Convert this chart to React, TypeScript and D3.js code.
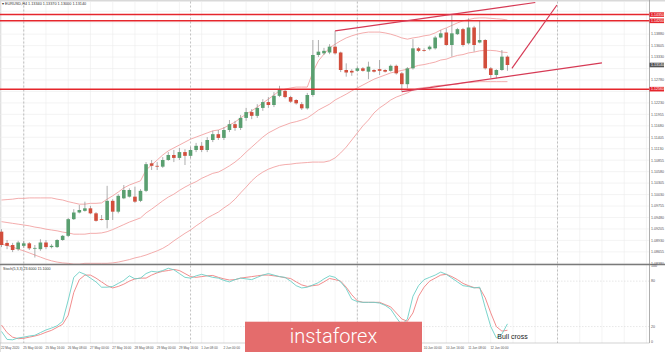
import * as d3 from 'd3';

// EURUSD H4 candles, 22 May 08:00 .. 12 Jun 12:00
const opens = [
  1.0914, 1.0887, 1.0882, 1.0872, 1.0880, 1.0886, 1.0874, 1.0872, 1.0888, 1.0877,
  1.0877, 1.0894, 1.0904, 1.0944, 1.0960, 1.0964, 1.0970, 1.0958, 1.0944, 1.0942,
  1.0988, 1.0962, 1.0994, 1.0998, 1.0998, 1.0988, 1.1012, 1.1078, 1.1072, 1.1070,
  1.1086, 1.1098, 1.1091, 1.1105, 1.1096, 1.1110, 1.1120, 1.1110, 1.1134, 1.1148,
  1.1139, 1.1158, 1.1172, 1.1163, 1.1187, 1.1201, 1.1192, 1.1211, 1.1225, 1.1218,
  1.1240, 1.1252, 1.1237, 1.1230, 1.1220, 1.1210, 1.1242, 1.1338, 1.1342, 1.1344,
  1.1358, 1.1344, 1.1302, 1.1300, 1.1300, 1.1306, 1.1298, 1.1302, 1.1304, 1.1302,
  1.1300, 1.1312, 1.1294, 1.1268, 1.1306, 1.1354, 1.1350, 1.1352, 1.1354, 1.1380,
  1.1392, 1.1362, 1.1388, 1.1400, 1.1366, 1.1404, 1.1368, 1.1374, 1.1306, 1.1290,
  1.1302, 1.1334,
];
const highs = [
  1.0920, 1.0894, 1.0887, 1.0892, 1.0892, 1.0889, 1.0882, 1.0896, 1.0894, 1.0884,
  1.0896, 1.0906, 1.0947, 1.0968, 1.0978, 1.0986, 1.0976, 1.0961, 1.0954, 1.1024,
  1.0992, 1.1004, 1.1026, 1.1018, 1.1022, 1.1016, 1.1081, 1.1086, 1.1081, 1.1093,
  1.1105, 1.1110, 1.1115, 1.1112, 1.1117, 1.1127, 1.1129, 1.1141, 1.1156, 1.1158,
  1.1165, 1.1182, 1.1180, 1.1194, 1.1211, 1.1208, 1.1220, 1.1232, 1.1237, 1.1249,
  1.1264, 1.1256, 1.1240, 1.1232, 1.1225, 1.1247, 1.1374, 1.1374, 1.1355, 1.1364,
  1.1396, 1.1346, 1.1318, 1.1304, 1.1309, 1.1309, 1.1322, 1.1304, 1.1326, 1.1304,
  1.1315, 1.1315, 1.1297, 1.1309, 1.1376, 1.1357, 1.1354, 1.1361, 1.1384, 1.1398,
  1.1402, 1.1436, 1.1403, 1.1403, 1.1426, 1.1408, 1.1422, 1.1376, 1.1309, 1.1304,
  1.1350, 1.1337,
];
const lows = [
  1.0877, 1.0872, 1.0865, 1.0868, 1.0875, 1.0870, 1.0852, 1.0868, 1.0872, 1.0874,
  1.0875, 1.0892, 1.0901, 1.0942, 1.0958, 1.0962, 1.0956, 1.0938, 1.0941, 1.0922,
  1.0942, 1.0958, 1.0992, 1.0996, 1.0983, 1.0985, 1.1009, 1.1062, 1.1062, 1.1067,
  1.1084, 1.1081, 1.1086, 1.1074, 1.1091, 1.1105, 1.1105, 1.1105, 1.1129, 1.1134,
  1.1134, 1.1153, 1.1156, 1.1158, 1.1180, 1.1184, 1.1187, 1.1204, 1.1211, 1.1213,
  1.1237, 1.1234, 1.1223, 1.1219, 1.1206, 1.1207, 1.1238, 1.1333, 1.1338, 1.1340,
  1.1339, 1.1297, 1.1286, 1.1288, 1.1298, 1.1298, 1.1280, 1.1296, 1.1290, 1.1296,
  1.1298, 1.1291, 1.1250, 1.1258, 1.1303, 1.1345, 1.1346, 1.1349, 1.1351, 1.1378,
  1.1360, 1.1334, 1.1386, 1.1358, 1.1363, 1.1346, 1.1366, 1.1303, 1.1283, 1.1282,
  1.1300, 1.1300,
];
const closes = [
  1.0882, 1.0880, 1.0870, 1.0888, 1.0886, 1.0874, 1.0875, 1.0888, 1.0877, 1.0880,
  1.0894, 1.0904, 1.0944, 1.0960, 1.0966, 1.0970, 1.0958, 1.0940, 1.0943, 1.0988,
  1.0962, 1.1000, 1.1014, 1.1014, 1.0986, 1.1012, 1.1076, 1.1072, 1.1071, 1.1086,
  1.1098, 1.1091, 1.1105, 1.1096, 1.1110, 1.1120, 1.1110, 1.1134, 1.1148, 1.1139,
  1.1158, 1.1172, 1.1163, 1.1187, 1.1201, 1.1192, 1.1211, 1.1225, 1.1218, 1.1240,
  1.1254, 1.1237, 1.1226, 1.1222, 1.1210, 1.1242, 1.1338, 1.1346, 1.1348, 1.1358,
  1.1342, 1.1302, 1.1296, 1.1296, 1.1306, 1.1300, 1.1310, 1.1298, 1.1300, 1.1298,
  1.1312, 1.1294, 1.1268, 1.1306, 1.1354, 1.1348, 1.1349, 1.1358, 1.1380, 1.1390,
  1.1362, 1.1390, 1.1400, 1.1362, 1.1404, 1.1362, 1.1374, 1.1306, 1.1290, 1.1302,
  1.1334, 1.1314,
];

// Bollinger bands as drawn on the chart
const bbUpper = [
  1.0990, 1.0991, 1.0992, 1.0994, 1.0994, 1.0995, 1.0995, 1.0995, 1.0995, 1.0995,
  1.0992, 1.0990, 1.0986, 1.0983, 1.0980, 1.0980, 1.0982, 1.0982, 1.0983, 1.0992,
  1.1000, 1.1009, 1.1019, 1.1026, 1.1031, 1.1036, 1.1062, 1.1074, 1.1086, 1.1098,
  1.1108, 1.1115, 1.1122, 1.1129, 1.1136, 1.1141, 1.1146, 1.1151, 1.1156, 1.1158,
  1.1163, 1.1170, 1.1177, 1.1187, 1.1196, 1.1204, 1.1213, 1.1223, 1.1232, 1.1242,
  1.1252, 1.1256, 1.1259, 1.1261, 1.1261, 1.1261, 1.1297, 1.1324, 1.1340, 1.1355,
  1.1364, 1.1372, 1.1379, 1.1384, 1.1388, 1.1391, 1.1393, 1.1393, 1.1393, 1.1391,
  1.1388, 1.1384, 1.1379, 1.1376, 1.1379, 1.1381, 1.1384, 1.1386, 1.1391, 1.1398,
  1.1403, 1.1409, 1.1415, 1.1420, 1.1423, 1.1426, 1.1427, 1.1427, 1.1426, 1.1425,
  1.1424, 1.1422,
];
const bbMiddle = [
  1.0938, 1.0936, 1.0934, 1.0932, 1.0930, 1.0928, 1.0925, 1.0923, 1.0920, 1.0918,
  1.0916, 1.0913, 1.0911, 1.0908, 1.0908, 1.0908, 1.0910, 1.0910, 1.0911, 1.0914,
  1.0919, 1.0925, 1.0931, 1.0937, 1.0942, 1.0947, 1.0959, 1.0968, 1.0978, 1.0988,
  1.0997, 1.1004, 1.1013, 1.1021, 1.1028, 1.1034, 1.1042, 1.1048, 1.1054, 1.1057,
  1.1064, 1.1072, 1.1081, 1.1092, 1.1105, 1.1117, 1.1129, 1.1141, 1.1151, 1.1158,
  1.1165, 1.1170, 1.1175, 1.1178, 1.1182, 1.1187, 1.1196, 1.1206, 1.1213, 1.1220,
  1.1230, 1.1237, 1.1244, 1.1252, 1.1259, 1.1266, 1.1273, 1.1280, 1.1285, 1.1290,
  1.1295, 1.1298, 1.1301, 1.1304, 1.1309, 1.1313, 1.1315, 1.1318, 1.1321, 1.1326,
  1.1328, 1.1333, 1.1337, 1.1339, 1.1343, 1.1345, 1.1348, 1.1349, 1.1349, 1.1348,
  1.1345, 1.1344,
];
const bbLower = [
  1.0884, 1.0881, 1.0877, 1.0872, 1.0868, 1.0863, 1.0858, 1.0853, 1.0848, 1.0844,
  1.0841, 1.0839, 1.0838, 1.0836, 1.0836, 1.0838, 1.0838, 1.0838, 1.0838, 1.0838,
  1.0839, 1.0841, 1.0844, 1.0847, 1.0851, 1.0854, 1.0858, 1.0863, 1.0868, 1.0874,
  1.0882, 1.0892, 1.0901, 1.0910, 1.0918, 1.0928, 1.0937, 1.0947, 1.0954, 1.0961,
  1.0971, 1.0980, 1.0992, 1.1007, 1.1021, 1.1036, 1.1048, 1.1057, 1.1064, 1.1069,
  1.1073, 1.1075, 1.1076, 1.1078, 1.1079, 1.1080, 1.1081, 1.1081, 1.1081, 1.1084,
  1.1091, 1.1103, 1.1117, 1.1134, 1.1151, 1.1168, 1.1182, 1.1199, 1.1211, 1.1220,
  1.1230, 1.1237, 1.1242, 1.1247, 1.1254, 1.1258, 1.1260, 1.1261, 1.1264, 1.1265,
  1.1266, 1.1267, 1.1268, 1.1271, 1.1272, 1.1273, 1.1274, 1.1274, 1.1274, 1.1274,
  1.1274, 1.1274,
];

// Stochastic (5,3,3)
const stochMain = [
  13.6, 3, 2.5, 5, 6, 7.5, 8.5, 12, 15.5, 18,
  21, 27, 55, 85, 92, 89, 84, 79, 72, 72,
  73, 77, 81, 87, 83, 84, 90, 93, 92, 94,
  97, 95, 90, 85, 84, 87, 89, 87, 85, 84,
  81, 79, 82, 84, 83, 82, 85, 88, 90, 88,
  86, 85, 80, 74, 71, 72, 75, 78, 83, 87,
  85, 79, 70, 56, 53, 52, 52, 52, 51, 48,
  43, 32, 22, 30, 60, 74, 82, 85, 88, 92,
  89, 84, 79, 74, 73, 71, 72, 45, 20, 5,
  10, 23.6,
];
const stochSignal = [
  22, 12, 6, 4, 4.5, 6, 7.5, 9.5, 12.5, 15,
  19, 23, 35, 65, 82, 88, 88, 84, 79, 74,
  71, 73, 76, 80, 83, 84, 84, 88, 91, 93,
  94, 95.5, 94, 90, 86, 85, 86, 87, 87.5, 85,
  83, 81.5, 82, 84, 85, 86, 87, 88, 88, 87,
  86, 84.5, 83.5, 79, 75, 73, 74, 75, 79, 83.5,
  82, 80, 72, 62, 54, 52, 52, 52, 52, 49,
  46, 38, 30, 27, 38, 60, 72, 80, 84, 88,
  89, 86, 82, 77, 74, 71.5, 71, 58, 38, 20,
  14, 15.1,
];

const priceTicks = d3.range(23).map(k => 1.0838 + k * 0.00275);
const levelLines = [1.1435, 1.1420, 1.1256];
const lastPrice = 1.1314;
// trend lines: [candle index, price] pairs
const trendLines = [
  [[60, 1.1396], [96, 1.1464]],
  [[72, 1.1250], [108, 1.1319]],
  [[91.8, 1.1306], [99.9, 1.1458]],
];
const timeTickIdx = d3.range(0, 89, 4);
const timeLabels = [
  '22 May 2020', '25 May 00:00', '25 May 16:00', '26 May 08:00', '27 May 00:00', '27 May 16:00',
  '28 May 08:00', '29 May 00:00', '29 May 16:00', '1 Jun 08:00', '2 Jun 00:00', '2 Jun 16:00',
  '3 Jun 08:00', '4 Jun 00:00', '4 Jun 16:00', '5 Jun 08:00', '8 Jun 00:00', '8 Jun 16:00',
  '9 Jun 08:00', '10 Jun 00:00', '10 Jun 16:00', '11 Jun 08:00', '12 Jun 00:00',
];
const separatorIdx = [4, 34, 64, 100];
const stochLevels = [80, 20];
const stochAxis = [100, 80, 20, 0];

const FONT = '"Liberation Sans", Arial, sans-serif';
const GREEN = '#5a9f70';
const RED = '#d24e3c';

export default function App() {
  const W = 665;
  const H = 352;
  const right = 649.5;
  const sep = 264.5;
  const logo = { x: 245, y: 321.7, w: 177, h: 31 };

  const x = d3.scaleLinear().domain([0, 116]).range([1.5, 1.5 + 116 * 5.56]);
  const y = d3.scaleLinear().domain([1.147, 1.08364]).range([0, 264]);
  const ys = d3.scaleLinear().domain([0, 100]).range([341.7, 266]);

  const band = d3.line<number>().x((_, i) => x(i)).y(d => y(d));
  const stochLine = d3.line<number>().x((_, i) => x(i)).y(d => ys(d));
  const fmt = d3.format('.5f');

  // time labels that sit entirely under the watermark are not visible
  const timeItems = timeTickIdx
    .map((i, k) => ({ i, label: timeLabels[k], tx: i === 0 ? 1 : x(i) - 0.4 }))
    .filter(d => !(d.tx > logo.x - 2 && d.tx + 20 < logo.x + logo.w + 2));

  // price labels hidden behind the coloured level boxes
  const boxed = [...levelLines, lastPrice].map(p => y(p));
  const visibleTicks = priceTicks.filter(p => boxed.every(b => Math.abs(y(p) - b) > 4.4));

  return (
    <svg width={W} height={H} style={{ position: 'absolute', left: 0, top: 0, background: '#fff' }} fontFamily={FONT}>
      <defs>
        <clipPath id="main-clip"><rect x={0} y={1.5} width={right} height={sep - 2} /></clipPath>
        <clipPath id="stoch-clip"><rect x={0} y={265.5} width={right} height={77.5} /></clipPath>
      </defs>
      <rect x={0} y={0} width={W} height={H} fill="#fff" />
      <rect x={0} y={0} width={W} height={1.5} fill="#d9d9d9" />
      <rect x={0} y={0} width={0.8} height={H} fill="#d9d9d9" />

      {/* grid */}
      <g stroke="#ededed" strokeWidth={0.6}>
        {priceTicks.map((p, k) => (
          <line key={'h' + k} x1={0} x2={right} y1={y(p)} y2={y(p)} />
        ))}
        {d3.range(0, 117, 4).map(i => (
          <line key={'v' + i} x1={x(i)} x2={x(i)} y1={1.5} y2={343} />
        ))}
        {stochLevels.map(v => (
          <line key={'s' + v} x1={0} x2={right} y1={ys(v)} y2={ys(v)} stroke="#d6d6d6" strokeDasharray="1.5,1.5" />
        ))}
      </g>
      <g stroke="#a8a8a8" strokeWidth={0.7} strokeDasharray="2,2">
        {separatorIdx.map(i => (
          <line key={i} x1={x(i)} x2={x(i)} y1={1.5} y2={343} />
        ))}
      </g>

      {/* main panel */}
      <g clipPath="url(#main-clip)">
        <g fill="none" stroke="#f2a3a3" strokeWidth={0.9}>
          <path d={band(bbUpper) || ''} />
          <path d={band(bbMiddle) || ''} />
          <path d={band(bbLower) || ''} />
        </g>
        {closes.map((c, i) => {
          const o = opens[i];
          const up = c >= o;
          const top = y(Math.max(o, c));
          const h = Math.max(0.8, Math.abs(y(o) - y(c)));
          return (
            <g key={i}>
              <line x1={x(i)} x2={x(i)} y1={y(highs[i])} y2={y(lows[i])} stroke="#8c8c8c" strokeWidth={0.7} />
              <rect x={x(i) - 1.8} y={top} width={3.6} height={h} fill={up ? GREEN : RED} />
            </g>
          );
        })}
        {levelLines.map(p => (
          <line key={p} x1={0} x2={right} y1={y(p)} y2={y(p)} stroke="#e5262c" strokeWidth={1.5} />
        ))}
        {trendLines.map((t, k) => (
          <line key={k} x1={x(t[0][0])} y1={y(t[0][1])} x2={x(t[1][0])} y2={y(t[1][1])}
            stroke="#d63a55" strokeWidth={1.2} />
        ))}
      </g>

      {/* header */}
      <text x={2} y={5} fontSize={3.8} fill="#333">
        {'\u25BE EURUSD,H4 ' + [opens[91], highs[91], lows[91], closes[91]].map(fmt).join(' ')}
      </text>

      {/* right price axis */}
      <line x1={right} x2={right} y1={0} y2={343} stroke="#9a9a9a" strokeWidth={0.8} />
      <g fontSize={3.6} fill="#555">
        {visibleTicks.map((p, k) => (
          <text key={k} x={651} y={y(p) + 1.3}>{fmt(p)}</text>
        ))}
      </g>
      {levelLines.map(p => (
        <g key={'l' + p}>
          <rect x={649.5} y={y(p) - 2.3} width={14.5} height={4.6} fill="#e5262c" />
          <text x={651} y={y(p) + 1.3} fontSize={3.6} fill="#fff">{fmt(p)}</text>
        </g>
      ))}
      <rect x={649.5} y={y(lastPrice) - 2.3} width={14.5} height={4.6} fill="#555" />
      <text x={651} y={y(lastPrice) + 1.3} fontSize={3.6} fill="#fff">{fmt(lastPrice)}</text>

      {/* panel separator */}
      <line x1={0} x2={W} y1={sep} y2={sep} stroke="#7a7a7a" strokeWidth={1.6} />

      {/* stochastic */}
      <text x={3} y={269.5} fontSize={3.6} fill="#333">
        {'Stoch(5,3,3) ' + stochMain[91].toFixed(4) + ' ' + stochSignal[91].toFixed(4)}
      </text>
      <g clipPath="url(#stoch-clip)" fill="none" strokeWidth={0.9}>
        <path d={stochLine(stochSignal) || ''} stroke="#ef8080" />
        <path d={stochLine(stochMain) || ''} stroke="#6ccfc6" />
      </g>
      <g fontSize={3.6} fill="#555">
        {stochAxis.map(v => (
          <text key={v} x={651} y={ys(v) + 1.3}>{v}</text>
        ))}
      </g>
      <line x1={0} x2={right} y1={343} y2={343} stroke="#b5b5b5" strokeWidth={0.6} />
      <text x={497.3} y={339.3} fontSize={7} fill="#222">Bull cross</text>

      {/* time axis */}
      <g fontSize={3.15} fill="#555">
        {timeItems.map(d => (
          <text key={d.i} x={d.tx} y={348.5}>{d.label}</text>
        ))}
      </g>

      {/* watermark */}
      <rect x={logo.x} y={logo.y} width={logo.w} height={logo.h} fill="#e46c6c" />
      <text x={333.5} y={342.7} textAnchor="middle" fontSize={20} fill="#fff"
        fontFamily='Roboto, "Liberation Sans", sans-serif' fontWeight={300}>instaforex</text>
    </svg>
  );
}
